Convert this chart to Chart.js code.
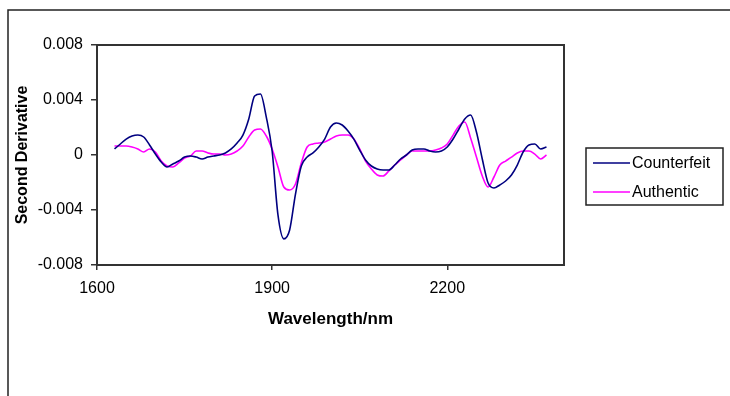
<!DOCTYPE html>
<html><head><meta charset="utf-8">
<script src="https://cdn.jsdelivr.net/npm/chart.js@4/dist/chart.umd.min.js"></script>
<style>html,body{margin:0;padding:0;background:#fff;}canvas{display:block;}</style>
</head><body>
<canvas id="c" width="730" height="396"></canvas>
<script>
const wavelengths = [1630,1640,1650,1660,1670,1680,1690,1700,1710,1720,1730,1740,1750,1760,1770,1780,1790,1800,1810,1820,1830,1840,1850,1860,1870,1880,1890,1900,1910,1920,1930,1940,1950,1960,1970,1980,1990,2000,2010,2020,2030,2040,2050,2060,2070,2080,2090,2100,2110,2120,2130,2140,2150,2160,2170,2180,2190,2200,2210,2220,2230,2240,2250,2260,2270,2280,2290,2300,2310,2320,2330,2340,2350,2360,2370];
const counterfeit = [0.00044,0.00080,0.00116,0.00138,0.00145,0.00131,0.00073,0.00007,-0.00051,-0.00087,-0.00065,-0.00044,-0.00015,-0.00007,-0.00015,-0.00029,-0.00015,-0.00007,0.00000,0.00015,0.00044,0.00087,0.00145,0.00262,0.00429,0.00444,0.00276,0.00029,-0.00436,-0.00610,-0.00545,-0.00284,-0.00080,-0.00015,0.00015,0.00058,0.00116,0.00204,0.00233,0.00218,0.00175,0.00116,0.00036,-0.00036,-0.00080,-0.00102,-0.00109,-0.00109,-0.00073,-0.00029,0.00000,0.00036,0.00044,0.00044,0.00029,0.00022,0.00029,0.00058,0.00116,0.00189,0.00262,0.00291,0.00167,-0.00029,-0.00204,-0.00240,-0.00218,-0.00189,-0.00145,-0.00073,0.00022,0.00073,0.00080,0.00044,0.00058];
const authentic = [0.00065,0.00065,0.00065,0.00058,0.00044,0.00022,0.00044,0.00022,-0.00044,-0.00080,-0.00087,-0.00058,-0.00022,-0.00007,0.00029,0.00029,0.00015,0.00007,0.00007,0.00000,0.00007,0.00029,0.00065,0.00131,0.00182,0.00189,0.00138,0.00044,-0.00087,-0.00233,-0.00255,-0.00211,-0.00058,0.00058,0.00080,0.00087,0.00095,0.00116,0.00138,0.00145,0.00145,0.00116,0.00044,-0.00044,-0.00102,-0.00145,-0.00153,-0.00116,-0.00073,-0.00036,0.00000,0.00029,0.00029,0.00029,0.00029,0.00036,0.00051,0.00080,0.00145,0.00211,0.00240,0.00124,-0.00015,-0.00153,-0.00233,-0.00160,-0.00073,-0.00044,-0.00015,0.00015,0.00029,0.00029,0.00007,-0.00029,0.00000];
const seriesNames = ['Counterfeit','Authentic'];
const xTicks = [1600,1900,2200];
const yTicks = [-0.008,-0.004,0,0.004,0.008];
const yTickLabels = ['-0.008','-0.004','0','0.004','0.008'];

const FONT = '"Liberation Sans", Arial, sans-serif';
const colors = ['#000080','#FF00FF'];

const framePlugin = {
  id: 'frame',
  beforeDraw(chart) {
    const ctx = chart.ctx;
    ctx.save();
    ctx.fillStyle = '#fff';
    ctx.fillRect(0, 0, chart.width, chart.height);
    ctx.strokeStyle = '#222';
    ctx.lineWidth = 1.5;
    ctx.strokeRect(8, 10, 800, 500);
    ctx.restore();
  },
  afterDraw(chart) {
    const ctx = chart.ctx;
    const a = chart.chartArea;
    ctx.save();
    ctx.strokeStyle = '#333';
    ctx.lineWidth = 2;
    ctx.strokeRect(a.left, a.top, a.right - a.left, a.bottom - a.top);
    // legend
    const lx = 586, ly = 148, lw = 137, lh = 57;
    ctx.lineWidth = 1.5;
    ctx.strokeStyle = '#222';
    ctx.strokeRect(lx, ly, lw, lh);
    ctx.font = '16px ' + FONT;
    ctx.textBaseline = 'middle';
    ctx.textAlign = 'left';
    chart.data.datasets.forEach((ds, i) => {
      const y = ly + 15 + i * 29;
      ctx.strokeStyle = ds.borderColor;
      ctx.lineWidth = 1.5;
      ctx.beginPath();
      ctx.moveTo(593, y);
      ctx.lineTo(630, y);
      ctx.stroke();
      ctx.fillStyle = '#000';
      ctx.fillText(ds.label, 632, y + 1);
    });
    ctx.restore();
  }
};

new Chart(document.getElementById('c'), {
  type: 'line',
  data: {
    datasets: [
      { label: seriesNames[0], data: wavelengths.map((w, i) => ({x: w, y: counterfeit[i]})), borderColor: colors[0], borderWidth: 1.6, pointRadius: 0, cubicInterpolationMode: 'monotone', fill: false },
      { label: seriesNames[1], data: wavelengths.map((w, i) => ({x: w, y: authentic[i]})), borderColor: colors[1], borderWidth: 1.6, pointRadius: 0, cubicInterpolationMode: 'monotone', fill: false }
    ]
  },
  options: {
    responsive: false,
    animation: false,
    devicePixelRatio: 1,
    layout: { padding: { left: 13, top: 45, right: 166, bottom: 66 } },
    plugins: { legend: { display: false }, tooltip: { enabled: false } },
    scales: {
      x: {
        type: 'linear', min: 1600, max: 2400,
        afterBuildTicks: s => { s.ticks = xTicks.map(v => ({value: v})); },
        afterFit: s => { s.height = 65; },
        ticks: { font: { family: FONT, size: 16 }, color: '#000', padding: 9, maxRotation: 0, autoSkip: false, callback: v => String(v) },
        grid: { drawOnChartArea: false, drawTicks: true, tickLength: 5, color: '#333', lineWidth: 1.5 },
        border: { display: false },
        title: { display: true, text: 'Wavelength/nm', color: '#000', font: { family: FONT, size: 17, weight: 'bold' }, padding: 0 }
      },
      y: {
        min: -0.008, max: 0.008,
        afterBuildTicks: s => { s.ticks = yTicks.map(v => ({value: v})); },
        afterFit: s => { s.width = 84; },
        ticks: { font: { family: FONT, size: 16 }, color: '#000', padding: 8, autoSkip: false, callback: (v, i) => yTickLabels[i] },
        grid: { drawOnChartArea: false, drawTicks: true, tickLength: 6, color: '#333', lineWidth: 1.5 },
        border: { display: false },
        title: { display: true, text: 'Second Derivative', color: '#000', font: { family: FONT, size: 16, weight: 'bold' }, padding: 0 }
      }
    }
  },
  plugins: [framePlugin]
});
</script>
</body></html>
